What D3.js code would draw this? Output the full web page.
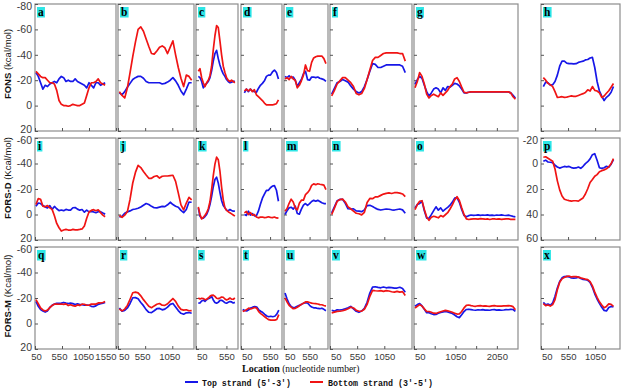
<!DOCTYPE html>
<html><head><meta charset="utf-8">
<script src="https://cdn.jsdelivr.net/npm/d3@7"></script>
<style>body{margin:0;background:#fff}svg{display:block}</style>
</head><body>
<svg id="c" width="624" height="389"></svg>
<script>
// ---------------- DATA ----------------
const panelLetters = ["a","b","c","d","e","f","g","h","i","j","k","l","m","n","o","p","q","r","s","t","u","v","w","x"];
const rowTitleBold = ["FONS","FORS-D","FORS-M"];
const rowTitleRest = [" (kcal/mol)"," (Kcal/mol)"," (Kcal/mol)"];
const colMax = [1550,1450,740,755,910,1560,2560,1510];
const colTicks = [[50,550,1050,1550],[50,550,1050],[50,550],[50,550],[50,550],[50,550,1050],[50,550,1050,1550,2050],[50,550,1050]];
const colTickLabels = [["50","550","1050","1550"],["50","550","1050"],["50","550"],["50","550"],["50","550"],["50","550","1050"],["50","","1050","","2050"],["50","550","1050"]];
const rowDomains = [[-80,20],[-60,20],[-60,20]];
const rowTicks = [[-80,-60,-40,-20,0,20],[-60,-40,-20,0,20],[-60,-40,-20,0,20]];
const pDomain = [-20,60];
const pTicks = [-20,0,20,40,60];
const xTitleBold = "Location";
const xTitleRest = " (nucleotide number)";
const legendLabels = ["Top strand (5'-3')","Bottom strand (3'-5')"];

// first/last nucleotide of each panel's series
const spanA=[68,1349], spanB=[75,1407], spanC=[88,689], spanD=[108,694], spanE=[70,870], spanF=[81,1436], spanG=[74,2497], spanH=[93,1389];
const spanI=[68,1349], spanJ=[75,1407], spanK=[88,689], spanL=[108,694], spanM=[70,870], spanN=[81,1436], spanO=[74,2497], spanP=[93,1389];
const spanQ=[68,1349], spanR=[75,1407], spanS=[88,689], spanT=[79,700], spanU=[70,870], spanV=[81,1436], spanW=[74,2497], spanX=[93,1389];

const topA=[-26,-23,-18,-13,-16,-15,-17,-18,-19,-18,-21,-23,-22,-19,-20,-19,-19,-21,-19,-18,-17,-16,-14,-18,-16,-14,-18,-18,-16,-17,-18];
const botA=[-27,-25,-23,-22,-22,-20,-18,-18,-17,-12,-4,-1,0,0,0.5,0,-1,-0.5,0,0,-1,-2,-8,-14,-18,-18,-19,-21,-18,-17,-16];
const topB=[-10,-8.5,-11,-14.5,-17.5,-20.5,-22,-23,-23,-21.5,-19,-18,-18,-18,-18,-18,-17,-17.5,-18.5,-20,-22,-19.5,-16,-11.5,-8.5,-13,-18,-18];
const botB=[-11,-8,-6,-14,-26,-38.5,-50,-60,-62,-58.5,-52.5,-46.5,-41,-40.5,-43,-46,-47,-45.5,-41,-46,-51,-40,-30,-21.5,-15,-24,-23,-20];
const topC=[-23,-22,-19,-14,-16,-17.5,-19,-22,-27.5,-35,-41,-43.5,-37,-32,-28,-25,-23,-20.5,-19,-18,-18.5,-19,-19];
const botC=[-27,-29,-22,-18,-15,-18,-20,-23.5,-31,-44,-55,-63,-61.5,-51,-40,-31,-26,-22,-20,-19,-20,-19,-18];
const topD=[-10,-13,-11,-13,-11.5,-11,-10.5,-13.5,-16,-17.5,-19.5,-23,-24,-24,-26.5,-28,-26,-21];
const botD=[-11.5,-13,-11.5,-13,-11,-12.5,-8.5,-7,-5.5,-4,-2,-0.5,-0.5,-0.5,-0.5,-1,-1.5,-4.5];
const topE=[-23,-22,-23.5,-22,-22.5,-20,-15,-18,-20.5,-25,-27,-20.5,-20,-22.5,-22.5,-22,-22.5,-21.5,-21,-20.5,-19];
const botE=[-21,-22,-20.5,-23,-21,-20,-14,-16,-19.5,-24,-32,-27.5,-27,-34,-37.5,-38.5,-39,-39,-39,-37,-33];
const topF=[-9,-13.5,-18,-19,-20.5,-19.5,-18.5,-15.5,-13,-11,-10,-11,-15,-20.5,-27,-33,-32.5,-30,-30,-31,-32,-32,-32,-32,-32,-32,-31,-26];
const botF=[-7.7,-12,-17,-19.5,-22,-22,-20,-18,-15,-9.5,-8.5,-9.5,-13.5,-20.5,-28,-35.5,-38,-38,-39.5,-41,-41.5,-41.5,-41.5,-41.5,-41.5,-41,-41,-35];
const topG=[-16.7,-20.5,-23,-21.5,-16,-11,-7.5,-10,-13,-14,-13,-10,-14,-12,-15,-14.5,-16,-17.5,-17,-15.5,-13,-10,-10,-10.5,-10.8,-10.8,-10.8,-10.8,-10.8,-10.8,-10.8,-10.8,-10.8,-10.8,-10.8,-10.8,-10.8,-10.8,-10.8,-10.8,-10.8,-10,-8,-6];
const botG=[-14,-19,-26,-23,-17,-9,-6,-8,-9,-8,-7,-10,-8,-10,-12,-15,-17,-21,-22,-19,-14.5,-10.5,-10,-10.5,-10.8,-10.8,-10.8,-10.8,-10.8,-10.8,-10.8,-10.8,-10.8,-10.8,-10.8,-10.8,-10.8,-10.8,-10.8,-10.8,-10.8,-10,-7,-5];
const topH=[-15,-18.5,-18,-16,-16.5,-19,-24,-31,-35,-35,-33.5,-33,-33,-32.8,-33,-34,-34.5,-35,-36,-36.3,-37.5,-38,-30,-19,-11.5,-7.5,-4,-6.5,-8,-10.5,-15];
const botH=[-22,-20,-17.5,-16.5,-15,-11,-6.5,-6.7,-7,-6.5,-6.7,-7.2,-7.6,-7.3,-7.3,-8,-8.7,-9.4,-10.3,-12.4,-11.5,-15,-12,-11.5,-10,-6.4,-7.6,-9.7,-11.7,-14.5,-17.4];

const topI=[-6.5,-9,-8.6,-7,-6,-5.2,-7,-4,-6.3,-4.5,-3,-3.5,-3,-4,-3.5,-3.5,-5.3,-5.5,-4.2,-3.4,-3.9,-1.8,-3.4,-2,-2.4,-2,-1.4,-2.2,-2.2,-1.2,-0.3];
const botI=[-7.8,-12.5,-12,-6.5,-6,-7,-5.2,-4,1,7,10.4,13,12.2,11.7,12.2,12.3,11.7,12,12,11.7,11.3,9,3,-2,-3.2,-3.8,-3,-3.7,-1.5,0.5,1.8];
const topJ=[1.8,1.5,-1,-2.1,-2.8,-3.9,-4.3,-4.9,-5.9,-7.3,-8.6,-7.8,-6.4,-5.3,-5.2,-5.8,-6.4,-6.2,-7.6,-9.6,-7.8,-6.5,-5.7,-3.2,-1.5,-3.9,-9.8,-9.6];
const botJ=[0.8,2.2,0.5,-2.3,-12,-24.7,-33,-38.5,-36.8,-33.8,-31,-28.4,-28.4,-29.8,-30.4,-28.6,-30,-30.2,-30.2,-30.5,-30.8,-26,-17,-7.5,-3.6,-9,-13.5,-11.5];
const topK=[-5,1.3,3,2.8,1.6,0,-3.2,-7.8,-14.3,-21.8,-27.4,-29.3,-24.6,-17.4,-11,-7,-5.2,-3.3,-3,-3.9,-3.1,-2.6,-2.6];
const botK=[-6,0,3.4,2.3,0.6,-1.3,-4.5,-10,-19.5,-30.5,-39.5,-45,-43,-34,-21.5,-11.5,-5.2,-3.3,-2.2,-1.3,-0.5,0.4,1.3];
const topL=[0,0.7,-2.6,0.4,-0.7,1,1,-2.6,-8,-12.8,-16,-19,-19,-21,-22.3,-22.6,-19,-10.4];
const botL=[-1.3,-2.4,0,-1.5,0.5,0,1.9,2.6,2.1,2,2.4,2.3,1.8,2.3,2.4,2,2.7,2.9];
const topM=[0,-3,-5.2,-5.7,-4.2,-6.5,-0.8,-0.3,-4.2,-7.3,-8.6,-7.2,-8.5,-10.2,-11.1,-10.4,-11.1,-10.2,-9.2,-8.6,-8.6];
const botM=[-2.6,-4.7,-8.8,-12,-9.8,-5.2,-3.6,-8.8,-11.2,-11.3,-15.6,-17.1,-19.2,-22.8,-24,-23.4,-24.1,-23.7,-23.4,-23,-19.5];
const topN=[-1.3,-6,-10.8,-11.8,-11.9,-8.8,-4.5,-4.3,-4.4,-2.8,-2.7,-2.2,-3.6,-7,-7.2,-6.3,-5,-4,-3.5,-3.9,-4.3,-4.1,-3.7,-3.5,-3.9,-4.3,-3.6,-1];
const botN=[0,-5,-10.3,-11.7,-12,-9.8,-6,-4.5,-2.6,-1,-0.6,0.3,-1.7,-9.4,-12.6,-12.4,-13.8,-13.9,-15,-16,-16.6,-17,-16.5,-17.1,-17.2,-16.8,-16.1,-14];
const topO=[-5.2,-7.8,-8.6,-10.5,-3,2.8,3,0.1,-3,-6,-3.4,-5.2,-2.6,-4.2,-5.6,-7.3,-9.7,-12.8,-13.3,-9.6,-3.9,0.8,1.8,0.9,0.4,0.7,0.6,0.3,0.7,0.4,0.6,0.3,0.7,0.5,0.8,0.4,0.6,0.3,0.6,0.8,0.5,1,1.5,1.8];
const botO=[-3.9,-7.8,-10.4,-10.8,-4,2,4.5,2.2,1.4,1.9,2.6,0.8,1.8,0.2,-1.4,-4.3,-7.6,-11.4,-14,-11,-5.2,0,3.4,3.9,3.6,3.4,3.4,3.6,3.3,3.5,3.7,3.4,3.9,3.5,3.4,3.7,3.5,3.8,3.6,3.4,3.5,3.8,3.9,3.9];
const topP=[-1.8,-2.6,-1.2,-1,-0.7,1.4,2.7,3.6,2.9,2.3,2.6,2.3,3.2,3.6,3.5,2.8,3.8,2.2,0.1,-1.4,-3.6,-6.9,-7.7,-2.5,3.3,3.8,3.3,2.2,3,0.5,-3.1];
const botP=[-4.9,-5.3,-4.1,-2.9,-1.8,4.3,13.6,20.7,25.5,28,28.6,29.1,29.5,29.2,29.2,29.5,28.2,27,23.9,19.8,14.9,12.6,10,8.7,6.5,5.6,5,4.1,2.6,0.2,-3.8];

const topQ=[-17.4,-13.5,-10.9,-9.8,-9,-9.9,-12.6,-14.3,-15.2,-15.8,-15.9,-16,-16.5,-16,-15.7,-16,-15.6,-14.9,-15.5,-14.9,-14.8,-14.3,-14.5,-14.3,-13.5,-13.2,-13.8,-15,-15.5,-16,-16.5];
const botQ=[-18.7,-15.6,-12.2,-10.6,-9.8,-10.5,-12.4,-14.1,-15.2,-15.2,-15.1,-15.3,-15,-15.4,-14.1,-14.7,-14,-13.6,-14.6,-14.1,-15.2,-15.1,-14.3,-14.3,-15.2,-15.3,-15.2,-16.1,-16.1,-16.5,-17.2];
const topR=[-12.2,-9.6,-10.2,-12.2,-15.7,-20.2,-20.3,-19.4,-16.5,-14,-10.9,-8.8,-8.5,-10,-11.6,-11.8,-10.7,-11.3,-12.8,-15,-15.7,-13,-10.1,-8,-7.3,-8.4,-8.6,-8];
const botR=[-11.4,-9.9,-11.3,-14.2,-19,-24.1,-24.6,-24,-21.7,-18.7,-16.1,-13.5,-12.4,-13.8,-15.1,-15.7,-14.3,-14.2,-15.5,-17.6,-19.6,-17.4,-13.6,-11.1,-10.5,-10.8,-10,-10.1];
const topS=[-16,-16.1,-17.7,-18.3,-17.4,-18.7,-19.5,-20,-21.3,-18.5,-16.5,-15.9,-16.6,-18.1,-18.2,-17.4,-16.3,-15.9,-16.6,-17.2,-16.9,-16.1,-16.6];
const botS=[-20,-19.2,-19.7,-19.6,-18.7,-19,-20,-21.3,-22.1,-22.2,-21.3,-19.8,-19.5,-20,-20.8,-20.6,-19.2,-18.5,-19,-20,-19.1,-19,-20];
const topT=[-11,-10.2,-9.8,-10.7,-12.2,-12.8,-13.3,-12.9,-10.7,-9.6,-8.6,-7.2,-5.9,-5.3,-5.7,-5.3,-5.7,-7.3,-10.4];
const botT=[-9.5,-10,-10.9,-12.1,-11.4,-12,-12.6,-12,-9.3,-7.8,-6.6,-5.3,-4,-3,-2.6,-2.6,-2.6,-3.1,-7];
const topU=[-23.9,-19.2,-15.4,-13.3,-12.4,-12.7,-13.5,-14.2,-15,-15.9,-16.4,-16.1,-14.3,-12.9,-12.3,-12.2,-11.8,-11.6,-12,-11.1,-10];
const botU=[-20,-16.9,-14.3,-12.8,-11.6,-11.9,-12.8,-13.9,-15,-15.9,-16.9,-17,-16.5,-16,-15.7,-15.6,-15.3,-14.8,-14.7,-14.1,-13.6];
const topV=[-10.4,-9.7,-10.8,-10.6,-10.9,-11.6,-12.3,-13.4,-11.4,-9.6,-8.8,-9.8,-11.9,-16.6,-23.9,-28.5,-28.8,-28.3,-28,-28.6,-28,-28.3,-28.1,-27.8,-27.8,-28.4,-27.4,-24.5];
const botV=[-8.3,-8.9,-9.5,-9.6,-10,-10.7,-11.6,-12.8,-12.2,-10.4,-9.6,-9.7,-11.2,-15,-21.3,-26,-25.7,-25.5,-25.8,-25.2,-25.8,-25.5,-24.9,-24.6,-25.2,-24.6,-25,-22];
const topW=[-13.5,-14.8,-15.6,-13.8,-11.2,-8.5,-8.5,-7.7,-7,-7.1,-8,-8.6,-9,-9.5,-9.1,-8.5,-7.8,-6.7,-5.3,-4.6,-6.8,-9.4,-11,-11.2,-10.9,-10.6,-10.4,-10.8,-10.6,-10.9,-10.5,-10.6,-10.4,-10.8,-10.9,-10.5,-10.7,-10.4,-10.6,-10.9,-10.8,-11.1,-11,-9.5];
const botW=[-12.2,-13.5,-14.8,-13.7,-11.5,-9.4,-9.4,-8.8,-8.1,-7.9,-8.6,-9.2,-9.8,-10.3,-9.9,-9.4,-8.8,-8.1,-7.4,-7.6,-9.4,-12.2,-14.2,-14.5,-14,-13.7,-13.5,-13.9,-14,-13.7,-13.8,-13.6,-13.5,-13.8,-14,-13.7,-13.6,-13.6,-13.8,-13.9,-14,-13.8,-13.2,-10.8];
const topX=[-16.6,-14.6,-15.2,-14.3,-16.1,-21.3,-27.8,-33,-35.8,-36.8,-36.9,-36.6,-35.7,-35.6,-35.8,-36.4,-35.3,-34.6,-34.3,-33.9,-32.3,-28.4,-23.3,-19.2,-15.8,-12.7,-10.3,-9.8,-12.5,-13.4,-13];
const botX=[-15.6,-14,-14.5,-13.7,-14.8,-18.7,-26.5,-32.3,-35,-36.2,-36.9,-37.2,-36.5,-36.7,-36.8,-36.4,-35.8,-35.3,-34.8,-34.4,-32.8,-29.5,-24.6,-20.5,-17,-14.5,-12.3,-13.4,-15.4,-15,-13.5];

const panelSpans=[spanA,spanB,spanC,spanD,spanE,spanF,spanG,spanH,spanI,spanJ,spanK,spanL,spanM,spanN,spanO,spanP,spanQ,spanR,spanS,spanT,spanU,spanV,spanW,spanX];
const panelTop=[topA,topB,topC,topD,topE,topF,topG,topH,topI,topJ,topK,topL,topM,topN,topO,topP,topQ,topR,topS,topT,topU,topV,topW,topX];
const panelBot=[botA,botB,botC,botD,botE,botF,botG,botH,botI,botJ,botK,botL,botM,botN,botO,botP,botQ,botR,botS,botT,botU,botV,botW,botX];

// ---------------- LAYOUT ----------------
const colX=[[35,116],[118,194],[196,238],[241,282],[284,328],[330,412],[414,518],[541,620]];
const rowY=[[4,131],[138,240],[247,349]];
const rowTitleY=[64,178,296];
const BLUE="#1717e8", RED="#f01414", FRAME="#8c8c8c", CYAN="#2ee6e6";
const sans="'Liberation Sans', Arial, sans-serif";
const serif="'Liberation Serif', 'Times New Roman', serif";
const mono="'Liberation Mono', 'Courier New', monospace";

const svg=d3.select("#c");
svg.append("rect").attr("width",624).attr("height",389).attr("fill","#fff");

function seriesPoints(vals, span){
  const n=vals.length;
  return vals.map((v,i)=>[span[0]+i*(span[1]-span[0])/(n-1), v]);
}

for(let r=0;r<3;r++){
  for(let c=0;c<8;c++){
    const idx=r*8+c;
    const [x0,x1]=colX[c], [y0,y1]=rowY[r];
    const xs=d3.scaleLinear().domain([50,colMax[c]]).range([x0,x1]);
    const isP = idx===15;
    const ys=d3.scaleLinear().domain(isP?pDomain:rowDomains[r]).range([y0,y1]);
    const g=svg.append("g");
    g.append("rect").attr("x",x0).attr("y",y0).attr("width",x1-x0).attr("height",y1-y0)
      .attr("fill","#fff").attr("stroke",FRAME).attr("stroke-width",1.2);

    const showY = c===0 || isP;
    const yt = isP ? pTicks : rowTicks[r];
    const yAxis=d3.axisLeft(ys).tickValues(yt).tickSize(-3).tickPadding(3)
      .tickFormat(d=> showY ? String(d) : "");
    const ga=g.append("g").attr("transform",`translate(${x0},0)`).call(yAxis);
    ga.select(".domain").remove();
    ga.selectAll(".tick line").attr("stroke","#555");
    ga.selectAll(".tick text").attr("font-family",sans).attr("font-size",10.5).attr("fill","#3a3a3a")
      .attr("dy",(d,i)=> i===0 ? "0.55em" : (i===yt.length-1 ? "0.1em" : "0.32em"));

    const xAxis=d3.axisBottom(xs).tickValues(colTicks[c]).tickSize(-3).tickPadding(4)
      .tickFormat((d,i)=> r===2 ? colTickLabels[c][i] : "");
    const gb=g.append("g").attr("transform",`translate(0,${y1})`).call(xAxis);
    gb.select(".domain").remove();
    gb.selectAll(".tick line").attr("stroke","#555");
    const nT=colTicks[c].length;
    gb.selectAll(".tick text").attr("font-family",sans).attr("font-size",9.5).attr("fill","#3a3a3a")
      .attr("text-anchor",(d,i)=> (c===0 && i===nT-1) ? "end" : (c>0 && i===0 ? "start" : "middle"))
      .attr("dx",(d,i)=> {
        if(c===0) return i===0 ? 1 : (i===nT-1 ? 0 : -3*i);
        if(i===0) return 0.5;
        return c===1 ? -3 : 0;
      });

    const line=d3.line().x(d=>xs(d[0])).y(d=>ys(d[1]));
    g.append("path").datum(seriesPoints(panelTop[idx],panelSpans[idx])).attr("d",line)
      .attr("fill","none").attr("stroke",BLUE).attr("stroke-width",1.7).attr("stroke-linejoin","round");
    g.append("path").datum(seriesPoints(panelBot[idx],panelSpans[idx])).attr("d",line)
      .attr("fill","none").attr("stroke",RED).attr("stroke-width",1.7).attr("stroke-linejoin","round");

    // panel letter on cyan box
    const box=g.append("rect").attr("x",x0+2).attr("y",y0+3).attr("height",10.5).attr("fill",CYAN);
    const lt=g.append("text").attr("x",x0+3).attr("y",y0+12).text(panelLetters[idx])
      .attr("font-family",serif).attr("font-weight","bold").attr("font-size",11.5).attr("fill","#000");
    box.attr("width",lt.node().getComputedTextLength()+2.2);
  }
  // row title
  const t=svg.append("text").attr("transform",`translate(11,${rowTitleY[r]}) rotate(-90)`)
    .attr("text-anchor","middle").attr("font-family",sans).attr("font-size",9.5).attr("fill","#111");
  t.append("tspan").attr("font-weight","bold").text(rowTitleBold[r]);
  t.append("tspan").text(rowTitleRest[r]);
}

// x-axis title
const xt=svg.append("text").attr("x",242).attr("y",372).attr("font-family",serif).attr("fill","#111");
xt.append("tspan").attr("font-weight","bold").attr("font-size",10).text(xTitleBold);
xt.append("tspan").attr("font-size",9.5).text(xTitleRest);

// legend
const lg=svg.append("g");
lg.append("line").attr("x1",185).attr("x2",198).attr("y1",382).attr("y2",382).attr("stroke",BLUE).attr("stroke-width",2);
lg.append("text").attr("x",202).attr("y",385.5).text(legendLabels[0]).attr("font-family",mono).attr("font-weight","bold")
  .attr("font-size",9.5).attr("textLength",89).attr("lengthAdjust","spacingAndGlyphs").attr("fill","#111");
lg.append("line").attr("x1",310).attr("x2",323).attr("y1",382).attr("y2",382).attr("stroke",RED).attr("stroke-width",2);
lg.append("text").attr("x",328).attr("y",385.5).text(legendLabels[1]).attr("font-family",mono).attr("font-weight","bold")
  .attr("font-size",9.5).attr("textLength",105).attr("lengthAdjust","spacingAndGlyphs").attr("fill","#111");
</script>
</body></html>
